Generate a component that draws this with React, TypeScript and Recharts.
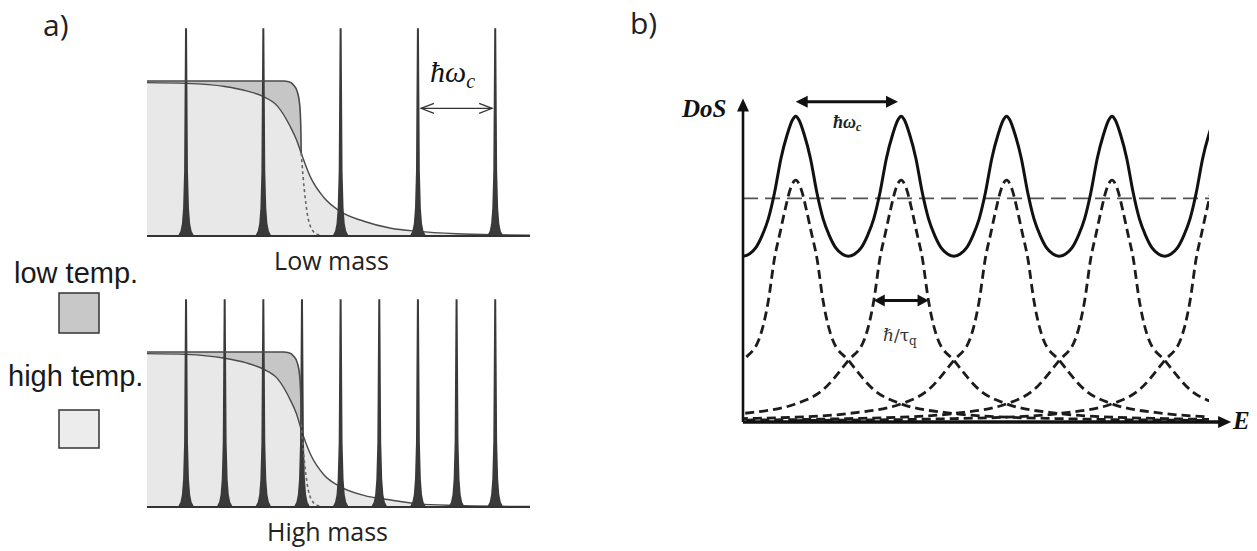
import { Area, ComposedChart, Line, ReferenceLine, XAxis, YAxis } from "recharts"

// panel a: energy in units of the low-mass level spacing, occupation 0..1
const lowMassLevels = [1, 2, 3, 4, 5]
const highMassLevels = [1, 1.5, 2, 2.5, 3, 3.5, 4, 4.5, 5]
const spikeOffsets = [-0.09, -0.06, -0.04, -0.025, -0.012, 0, 0.012, 0.025, 0.04, 0.06, 0.09]
const spikeHeights = [0, 0.03, 0.08, 0.18, 0.42, 1.34, 0.42, 0.18, 0.08, 0.03, 0]

const lowTempE = [0.495, 1, 1.5, 2, 2.26, 2.33, 2.39, 2.44, 2.47, 2.485, 2.49]
const lowTempOcc = [1, 1, 1, 1, 1, 0.995, 0.975, 0.93, 0.85, 0.7, 0.535]
const lowTailE = [2.49, 2.5, 2.53, 2.57, 2.62, 2.7, 2.8]
const lowTailOcc = [0.535, 0.47, 0.3, 0.14, 0.05, 0.01, 0]

const highTempE = [0.495, 1, 1.5, 1.78, 2, 2.18, 2.35, 2.43, 2.49, 2.61, 2.78, 3, 3.3, 3.65, 4, 4.5, 5, 5.45]
const highTempLight = [0.99, 0.985, 0.965, 0.937, 0.9, 0.84, 0.705, 0.62, 0.535, 0.38, 0.25, 0.157, 0.095, 0.05, 0.03, 0.015, 0.008, 0.005]
const highTempHeavy = [0.99, 0.985, 0.96, 0.93, 0.89, 0.83, 0.69, 0.6, 0.5, 0.34, 0.21, 0.13, 0.075, 0.045, 0.02, 0.01, 0.005, 0.003]

// panel b: energy in units of ħω_c
const landauLevels = [1, 2, 3, 4, 5]
const dosOffsets = [-0.5, -0.44, -0.38, -0.32, -0.26, -0.2, -0.14, -0.08, -0.03, 0, 0.03, 0.08, 0.14, 0.2, 0.26, 0.32, 0.38, 0.44]
const dosProfile = [0.685, 0.695, 0.72, 0.77, 0.84, 0.95, 1.09, 1.19, 1.25, 1.265, 1.25, 1.19, 1.09, 0.95, 0.84, 0.77, 0.72, 0.695]
const peakOffsets = [-4, -3.5, -3, -2.5, -2, -1.5, -1, -0.75, -0.5, -0.35, -0.26, -0.2, -0.15, -0.1, -0.05, 0,
  0.05, 0.1, 0.15, 0.2, 0.26, 0.35, 0.5, 0.75, 1, 1.5, 2, 2.5, 3, 3.5, 4]
const peakProfile = [0.006, 0.008, 0.01, 0.014, 0.02, 0.035, 0.075, 0.13, 0.255, 0.34, 0.5, 0.68, 0.78, 0.88, 0.965, 1,
  0.965, 0.88, 0.78, 0.68, 0.5, 0.34, 0.255, 0.13, 0.075, 0.035, 0.02, 0.014, 0.01, 0.008, 0.006]
const meanDos = 0.925

const pts = (xs: number[], ys: number[]) => xs.map((e, i) => ({ e, v: ys[i] }))
const spikeData = (c: number) => spikeOffsets.map((d, i) => ({ e: c + d, v: spikeHeights[i] }))

const lowSolid = pts(lowTempE, lowTempOcc)
const lowDotted = pts(lowTailE, lowTailOcc)
const lowArea = [...lowSolid, ...lowDotted.slice(1)]

const dosData = landauLevels.flatMap((c) => dosOffsets.map((d, i) => ({ e: c + d, v: dosProfile[i] })))
const peakData = (c: number) => peakOffsets.map((d, i) => ({ e: c + d, v: peakProfile[i] }))

type ArrowOpts = { head: number; half: number; filled: boolean; both: boolean; color: string; width: number }

function arrowShape(o: ArrowOpts) {
  return (p: any) => {
    const { x1, y1, x2, y2 } = p
    const len = Math.hypot(x2 - x1, y2 - y1) || 1
    const ux = (x2 - x1) / len
    const uy = (y2 - y1) / len
    const head = (tx: number, ty: number, dx: number, dy: number) => {
      const bx = tx - dx * o.head
      const by = ty - dy * o.head
      const d = `${bx - dy * o.half},${by + dx * o.half} ${tx},${ty} ${bx + dy * o.half},${by - dx * o.half}`
      return o.filled ? (
        <polygon points={d} fill={o.color} />
      ) : (
        <polyline points={d} fill="none" stroke={o.color} strokeWidth={o.width} />
      )
    }
    const cut = o.filled ? o.head * 0.8 : 0
    const sx = o.both ? x1 + ux * cut : x1
    const sy = o.both ? y1 + uy * cut : y1
    return (
      <g>
        <line x1={sx} y1={sy} x2={x2 - ux * cut} y2={y2 - uy * cut} stroke={o.color} strokeWidth={o.width} />
        {head(x2, y2, ux, uy)}
        {o.both && head(x1, y1, -ux, -uy)}
      </g>
    )
  }
}

function FermiPanel({ levels, highOcc, top, children }: { levels: number[]; highOcc: number[]; top: number; children?: any }) {
  const highData = pts(highTempE, highOcc)
  return (
    <div style={{ position: "absolute", left: 143, top, width: 391, height: 228 }}>
      <ComposedChart width={391} height={228} margin={{ top: 6, right: 4, bottom: 6, left: 4 }}>
        <XAxis type="number" dataKey="e" domain={[0.495, 5.45]} hide allowDataOverflow />
        <YAxis type="number" domain={[0, 1.394]} hide allowDataOverflow />
        <Area data={lowArea} dataKey="v" type="monotone" fill="#c6c6c6" fillOpacity={1} stroke="none" isAnimationActive={false} />
        <Area data={highData} dataKey="v" type="monotone" fill="#e8e8e8" fillOpacity={1} stroke="#4a4a4a" strokeWidth={1.4} isAnimationActive={false} />
        <Line data={lowSolid} dataKey="v" type="monotone" stroke="#4a4a4a" strokeWidth={1.6} dot={false} isAnimationActive={false} />
        <Line data={lowDotted} dataKey="v" type="monotone" stroke="#666" strokeWidth={1.6} strokeDasharray="3 3" dot={false} isAnimationActive={false} />
        {levels.map((c) => (
          <Area key={c} data={spikeData(c)} dataKey="v" type="linear" fill="#3a3a3a" fillOpacity={1} stroke="#3a3a3a" strokeWidth={2} isAnimationActive={false} />
        ))}
        <ReferenceLine y={0} stroke="#333" strokeWidth={2} />
        {children}
      </ComposedChart>
    </div>
  )
}

export default function App() {
  const serif = "'Liberation Serif', 'DejaVu Serif', serif"
  return (
    <div style={{ position: "fixed", left: 0, top: 0, width: 1257, height: 551, background: "#fff", overflow: "hidden" }}>
      <FermiPanel levels={lowMassLevels} highOcc={highTempLight} top={14}>
        <ReferenceLine
          segment={[{ x: 4.04, y: 0.824 }, { x: 4.96, y: 0.824 }]}
          ifOverflow="visible"
          shape={arrowShape({ head: 13, half: 5, filled: false, both: true, color: "#333", width: 1.2 })}
        />
      </FermiPanel>
      <FermiPanel levels={highMassLevels} highOcc={highTempHeavy} top={284.7} />

      <div style={{ position: "absolute", left: 732.7, top: 87.8, width: 524, height: 344 }}>
        <ComposedChart width={524} height={344} margin={{ top: 10, right: 48, bottom: 10, left: 10 }}>
          <XAxis type="number" dataKey="e" domain={[0.5, 4.92]} hide allowDataOverflow />
          <YAxis type="number" domain={[0, 1.34]} hide allowDataOverflow />
          <ReferenceLine y={meanDos} stroke="#555" strokeWidth={1.6} strokeDasharray="15 7" />
          {landauLevels.map((c) => (
            <Line key={c} data={peakData(c)} dataKey="v" type="monotone" stroke="#1c1c1c" strokeWidth={2.8} strokeDasharray="9 5" dot={false} isAnimationActive={false} />
          ))}
          <Line data={dosData} dataKey="v" type="monotone" stroke="#111" strokeWidth={3} dot={false} isAnimationActive={false} />
          <ReferenceLine
            segment={[{ x: 0.5, y: 0 }, { x: 5.13, y: 0 }]}
            ifOverflow="visible"
            shape={arrowShape({ head: 13, half: 6, filled: true, both: false, color: "#111", width: 3.5 })}
          />
          <ReferenceLine
            segment={[{ x: 0.5, y: 0 }, { x: 0.5, y: 1.338 }]}
            ifOverflow="visible"
            shape={arrowShape({ head: 13, half: 6, filled: true, both: false, color: "#111", width: 2.6 })}
          />
          <ReferenceLine
            segment={[{ x: 1.0, y: 1.324 }, { x: 1.97, y: 1.324 }]}
            ifOverflow="visible"
            shape={arrowShape({ head: 12, half: 6, filled: true, both: true, color: "#111", width: 3 })}
          />
          <ReferenceLine
            segment={[{ x: 1.74, y: 0.503 }, { x: 2.26, y: 0.503 }]}
            ifOverflow="visible"
            shape={arrowShape({ head: 11, half: 6, filled: true, both: true, color: "#111", width: 3 })}
          />
        </ComposedChart>
      </div>

      <svg width={1257} height={551} style={{ position: "absolute", left: 0, top: 0, pointerEvents: "none" }}>
        <g fontFamily="'Open Sans', sans-serif" fill="#222">
          <text x={43} y={36} fontSize={30}>a)</text>
          <text x={630} y={34} fontSize={30}>b)</text>
          <text x={331.5} y={270} fontSize={25} textAnchor="middle">Low mass</text>
          <text x={327.5} y={541} fontSize={25} textAnchor="middle">High mass</text>
        </g>
        <g fontFamily="'Liberation Sans', Arial, sans-serif" fill="#1a1a1a" fontSize={29}>
          <text x={14} y={283}>low temp.</text>
          <text x={8} y={386}>high temp.</text>
        </g>
        <rect x={59} y={293} width={40} height={40} fill="#c8c8c8" stroke="#333" strokeWidth={1.5} />
        <rect x={59} y={410} width={40} height={38} fill="#ececec" stroke="#333" strokeWidth={1.5} />
        <text x={430} y={82} fontFamily={serif} fontStyle="italic" fontSize={30} fill="#111">
          ħω<tspan fontSize={20} dy={6}>c</tspan>
        </text>
        <text x={682} y={117} fontFamily={serif} fontStyle="italic" fontWeight="bold" fontSize={25} fill="#111">DoS</text>
        <text x={1233} y={429} fontFamily={serif} fontStyle="italic" fontWeight="bold" fontSize={25} fill="#111">E</text>
        <text x={833} y={128} fontFamily={serif} fontStyle="italic" fontWeight="bold" fontSize={18} fill="#222">
          ħω<tspan fontSize={12} dy={3}>c</tspan>
        </text>
        <text x={883} y={341} fontFamily="'DejaVu Serif', serif" fontSize={17} fill="#333">
          ℏ/τ<tspan fontSize={12} dy={4}>q</tspan>
        </text>
      </svg>
    </div>
  )
}
